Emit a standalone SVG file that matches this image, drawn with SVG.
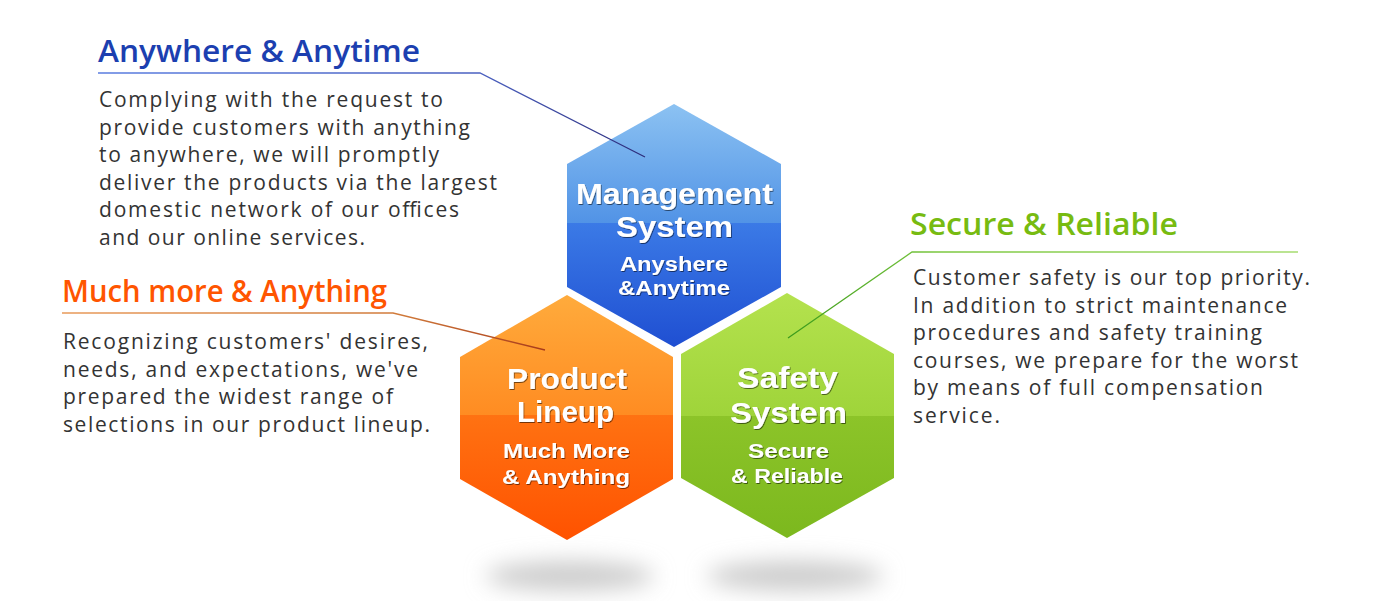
<svg xmlns="http://www.w3.org/2000/svg" width="1387" height="601" viewBox="0 0 1387 601">
<style>
.title{font-family:"Open Sans","DejaVu Sans",sans-serif;font-size:30px;font-weight:600;}
.body{font-family:"Open Sans","DejaVu Sans",sans-serif;font-size:21px;fill:#333333;}
.hl{font-family:"Liberation Sans",Arial,sans-serif;font-weight:bold;fill:#ffffff;text-anchor:middle;filter:url(#ts);}
.big{font-size:29px;}
.small{font-size:20px;}
.conn{fill:none;stroke-width:1.3;}
</style>
<defs>
<linearGradient id="gBlue" x1="0" y1="0" x2="0" y2="1">
<stop offset="0" stop-color="#8cc2f2"/>
<stop offset="0.49" stop-color="#5193e6"/>
<stop offset="0.49" stop-color="#3b7ae6"/>
<stop offset="1" stop-color="#1f4fd2"/>
</linearGradient>
<linearGradient id="gOrange" x1="0" y1="0" x2="0" y2="1">
<stop offset="0" stop-color="#ffab3c"/>
<stop offset="0.49" stop-color="#ff8c22"/>
<stop offset="0.49" stop-color="#ff7212"/>
<stop offset="1" stop-color="#ff5200"/>
</linearGradient>
<linearGradient id="gGreen" x1="0" y1="0" x2="0" y2="1">
<stop offset="0" stop-color="#b4e24e"/>
<stop offset="0.50" stop-color="#9fd43a"/>
<stop offset="0.50" stop-color="#8cc429"/>
<stop offset="1" stop-color="#7cb81e"/>
</linearGradient>
<linearGradient id="lBlue" gradientUnits="userSpaceOnUse" x1="98" y1="0" x2="645" y2="0">
<stop offset="0" stop-color="#5a7de0"/>
<stop offset="0.7" stop-color="#4a60c0"/>
<stop offset="1" stop-color="#2c2c7a"/>
</linearGradient>
<linearGradient id="lOrange" gradientUnits="userSpaceOnUse" x1="62" y1="0" x2="545" y2="0">
<stop offset="0" stop-color="#e89a5a"/>
<stop offset="0.7" stop-color="#d07a3a"/>
<stop offset="1" stop-color="#a83a1a"/>
</linearGradient>
<linearGradient id="lGreen" gradientUnits="userSpaceOnUse" x1="1298" y1="0" x2="788" y2="0">
<stop offset="0" stop-color="#a6dc70"/>
<stop offset="0.7" stop-color="#7cc840"/>
<stop offset="1" stop-color="#3a9a1a"/>
</linearGradient>
<filter id="ts" x="-10%" y="-30%" width="120%" height="160%">
<feDropShadow dx="0.8" dy="1" stdDeviation="0.7" flood-color="#000" flood-opacity="0.55"/>
</filter>
<filter id="blur" x="-50%" y="-150%" width="200%" height="400%">
<feGaussianBlur stdDeviation="11"/>
</filter>
</defs>
<rect width="1387" height="601" fill="#ffffff"/>

<g id="shadows">
<ellipse cx="570" cy="576" rx="84" ry="15" fill="#cccccc" filter="url(#blur)"/>
<ellipse cx="795" cy="576" rx="88" ry="15" fill="#cccccc" filter="url(#blur)"/>
</g>

<g id="node-management">
<polygon points="674,104 781,164 781,287 674,347 567,287 567,164" fill="url(#gBlue)"/>
<text class="hl big" x="674.5" y="204" textLength="197" lengthAdjust="spacingAndGlyphs">Management</text>
<text class="hl big" x="674.5" y="237" textLength="117" lengthAdjust="spacingAndGlyphs">System</text>
<text class="hl small" x="674" y="271" textLength="108" lengthAdjust="spacingAndGlyphs">Anyshere</text>
<text class="hl small" x="674" y="295" textLength="112" lengthAdjust="spacingAndGlyphs">&amp;Anytime</text>
</g>

<g id="node-product">
<polygon points="567,295 673,357 673,479 567,540 460,479 460,357" fill="url(#gOrange)"/>
<text class="hl big" x="567" y="389" textLength="120" lengthAdjust="spacingAndGlyphs">Product</text>
<text class="hl big" x="565.5" y="422" textLength="97" lengthAdjust="spacingAndGlyphs">Lineup</text>
<text class="hl small" x="566.5" y="458" textLength="127" lengthAdjust="spacingAndGlyphs">Much More</text>
<text class="hl small" x="566" y="484" textLength="128" lengthAdjust="spacingAndGlyphs">&amp; Anything</text>
</g>

<g id="node-safety">
<polygon points="787,293 894,354 894,478 787,538 681,478 681,354" fill="url(#gGreen)"/>
<text class="hl big" x="787.5" y="388" textLength="101" lengthAdjust="spacingAndGlyphs">Safety</text>
<text class="hl big" x="788.5" y="423" textLength="117" lengthAdjust="spacingAndGlyphs">System</text>
<text class="hl small" x="788.5" y="458" textLength="81" lengthAdjust="spacingAndGlyphs">Secure</text>
<text class="hl small" x="787" y="483" textLength="112" lengthAdjust="spacingAndGlyphs">&amp; Reliable</text>
</g>

<g id="connectors">
<polyline class="conn" points="98,73 480,73 645,157" stroke="url(#lBlue)"/>
<polyline class="conn" points="62,313 393,313 545,350" stroke="url(#lOrange)"/>
<polyline class="conn" points="1298,252 912,252 788,338" stroke="url(#lGreen)"/>
</g>

<g id="text-anywhere">
<text class="title" x="98" y="62" fill="#1c3fb0" textLength="322" lengthAdjust="spacingAndGlyphs">Anywhere &amp; Anytime</text>
<text class="body" x="99" y="107" textLength="344" lengthAdjust="spacing">Complying with the request to</text>
<text class="body" x="99" y="134.5" textLength="371" lengthAdjust="spacing">provide customers with anything</text>
<text class="body" x="99" y="162" textLength="340" lengthAdjust="spacing">to anywhere, we will promptly</text>
<text class="body" x="99" y="189.5" textLength="398" lengthAdjust="spacing">deliver the products via the largest</text>
<text class="body" x="99" y="217" textLength="360" lengthAdjust="spacing">domestic network of our offices</text>
<text class="body" x="99" y="244.5" textLength="266" lengthAdjust="spacing">and our online services.</text>
</g>

<g id="text-much-more">
<text class="title" x="62" y="302" fill="#ff5500" textLength="325" lengthAdjust="spacingAndGlyphs">Much more &amp; Anything</text>
<text class="body" x="63" y="349" textLength="365" lengthAdjust="spacing">Recognizing customers' desires,</text>
<text class="body" x="63" y="376.5" textLength="355" lengthAdjust="spacing">needs, and expectations, we've</text>
<text class="body" x="63" y="404" textLength="330" lengthAdjust="spacing">prepared the widest range of</text>
<text class="body" x="63" y="431.5" textLength="367" lengthAdjust="spacing">selections in our product lineup.</text>
</g>

<g id="text-secure">
<text class="title" x="910" y="235" fill="#77bb11" textLength="268" lengthAdjust="spacingAndGlyphs">Secure &amp; Reliable</text>
<text class="body" x="913" y="285" textLength="397" lengthAdjust="spacing">Customer safety is our top priority.</text>
<text class="body" x="913" y="312.5" textLength="374" lengthAdjust="spacing">In addition to strict maintenance</text>
<text class="body" x="913" y="340" textLength="349" lengthAdjust="spacing">procedures and safety training</text>
<text class="body" x="913" y="367.5" textLength="385" lengthAdjust="spacing">courses, we prepare for the worst</text>
<text class="body" x="913" y="395" textLength="350" lengthAdjust="spacing">by means of full compensation</text>
<text class="body" x="913" y="422.5" textLength="87" lengthAdjust="spacing">service.</text>
</g>
</svg>
